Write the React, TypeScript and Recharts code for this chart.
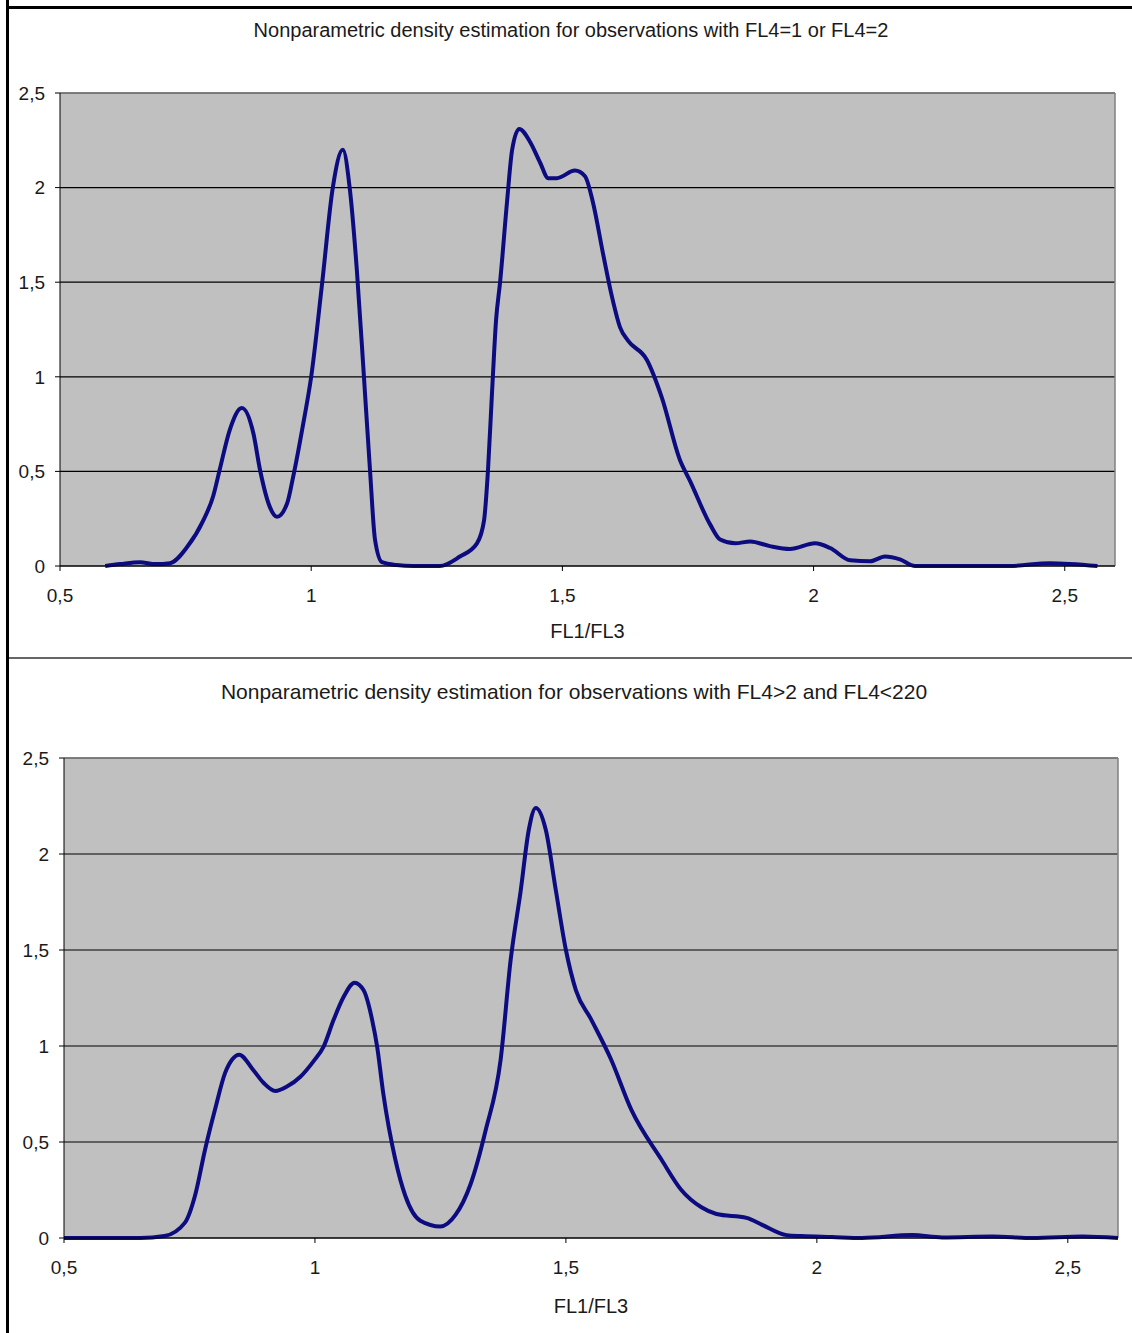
import {
  LineChart,
  Line,
  XAxis,
  YAxis,
  CartesianGrid,
  ReferenceLine
} from 'recharts';

// FL1/FL3 values and estimated density, top panel (FL4=1 or FL4=2)
const topX = [
  0.59, 0.62, 0.659, 0.69, 0.719, 0.753, 0.785, 0.805, 0.818, 0.838, 0.862, 0.885, 0.898,
  0.918, 0.932, 0.952, 0.964, 0.984, 1.0, 1.022, 1.043, 1.063, 1.077, 1.091, 1.105, 1.117,
  1.127, 1.141, 1.17, 1.203, 1.256, 1.296, 1.33, 1.344, 1.352, 1.36, 1.368, 1.376, 1.39,
  1.4, 1.414, 1.436, 1.456, 1.472, 1.489, 1.525, 1.545, 1.561, 1.581, 1.599, 1.615, 1.631,
  1.668, 1.698, 1.734, 1.754, 1.794, 1.814, 1.844, 1.874, 1.913, 1.953, 2.003, 2.033,
  2.073, 2.113, 2.142, 2.172, 2.202, 2.3, 2.39, 2.47, 2.565
];
const topY = [
  0, 0.01, 0.02, 0.01, 0.015, 0.1, 0.24, 0.37, 0.51, 0.72, 0.835, 0.7, 0.51,
  0.31, 0.26, 0.33, 0.47, 0.75, 1.0, 1.5, 2.0, 2.2, 1.99, 1.56, 1.0, 0.51,
  0.14, 0.02, 0.005, 0, 0, 0.05, 0.12, 0.24, 0.51, 0.92, 1.3, 1.5, 1.93,
  2.2, 2.31, 2.24, 2.13, 2.05, 2.05, 2.09, 2.06, 1.92, 1.65, 1.42, 1.26, 1.19,
  1.09, 0.89, 0.56, 0.45, 0.22, 0.14, 0.12, 0.13, 0.105, 0.09, 0.12, 0.095,
  0.03, 0.025, 0.05, 0.035, 0, 0, 0, 0.015, 0
];

// bottom panel (FL4>2 and FL4<220)
const bottomX = [
  0.5, 0.6, 0.652, 0.7, 0.741, 0.761, 0.781, 0.801, 0.821, 0.835, 0.849, 0.877, 0.897,
  0.921, 0.945, 0.971, 0.997, 1.017, 1.037, 1.057, 1.079, 1.097, 1.114, 1.124, 1.136,
  1.16, 1.18, 1.21, 1.25, 1.28, 1.31, 1.34, 1.37, 1.39, 1.41, 1.426, 1.44, 1.46, 1.48,
  1.5, 1.52, 1.55, 1.59, 1.63, 1.69, 1.73, 1.77, 1.8, 1.86, 1.89, 1.94, 1.97, 2.03,
  2.09, 2.19, 2.25, 2.35, 2.43, 2.53, 2.6
];
const bottomY = [
  0, 0, 0, 0.01, 0.08, 0.22, 0.46, 0.67, 0.86, 0.93, 0.955, 0.875, 0.81,
  0.766, 0.79, 0.84, 0.92, 0.995, 1.135, 1.255, 1.33, 1.29, 1.135, 0.995, 0.755,
  0.41, 0.22, 0.09, 0.06, 0.12, 0.28, 0.56, 0.93, 1.45, 1.81, 2.125, 2.24, 2.125, 1.81,
  1.5, 1.29, 1.14, 0.93, 0.67, 0.41, 0.25, 0.16, 0.125, 0.105, 0.07, 0.015, 0.01, 0.005,
  0, 0.015, 0.003, 0.008, 0, 0.008, 0
];

const xTicks = [0.5, 1, 1.5, 2, 2.5];
const yTicks = [0, 0.5, 1, 1.5, 2, 2.5];

const topData = topX.map((x, i) => ({ x, y: topY[i] }));
const bottomData = bottomX.map((x, i) => ({ x, y: bottomY[i] }));

const font = '"Liberation Sans", Arial, sans-serif';
const fmt = (v: number) => String(v).replace('.', ',');

function DensityChart({ data, title, titleSize, top, plotLeft, plotTop, plotRight, plotBottom, height, titleX, titleY }: any) {
  const W = 1132;
  return (
    <div style={{ position: 'absolute', left: 0, top, width: W, height }}>
      <div
        style={{
          position: 'absolute',
          left: titleX - 450,
          width: 900,
          top: titleY - 12,
          textAlign: 'center',
          fontFamily: font,
          fontSize: titleSize,
          color: '#1a1a1a'
        }}
      >
        {title}
      </div>
      <LineChart
        width={W}
        height={height}
        data={data}
        margin={{ top: plotTop, right: W - plotRight, bottom: 0, left: 0 }}
        style={{ fontFamily: font }}
      >
        <CartesianGrid vertical={false} fill="#c0c0c0" stroke="#000" strokeWidth={1.2} fillOpacity={1} />
        <XAxis
          dataKey="x"
          type="number"
          domain={[0.5, 2.6]}
          ticks={xTicks}
          allowDataOverflow
          tickFormatter={fmt}
          height={height - plotBottom}
          tickSize={5}
          tickMargin={18}
          stroke="#000"
          tick={{ fill: '#1a1a1a', fontSize: 19 }}
          label={{ value: 'FL1/FL3', position: 'insideBottom', offset: 20, fill: '#1a1a1a', fontSize: 20 }}
        />
        <YAxis
          type="number"
          domain={[0, 2.5]}
          ticks={yTicks}
          width={plotLeft}
          tickFormatter={fmt}
          tickSize={5}
          tickMargin={10}
          stroke="#000"
          tick={{ fill: '#1a1a1a', fontSize: 19 }}
        />
        <ReferenceLine y={2.5} stroke="#808080" strokeWidth={1.5} />
        <ReferenceLine x={2.6} stroke="#808080" strokeWidth={1.5} />
        <Line
          type="monotone"
          dataKey="y"
          stroke="#0c0c80"
          strokeWidth={4}
          dot={false}
          isAnimationActive={false}
        />
      </LineChart>
    </div>
  );
}

export default function App() {
  return (
    <div style={{ position: 'absolute', left: 0, top: 0, width: 1132, height: 1333, background: '#fff', overflow: 'hidden' }}>
      <DensityChart
        data={topData}
        title="Nonparametric density estimation for observations with FL4=1 or FL4=2"
        titleSize={20}
        top={0}
        height={658}
        plotLeft={60}
        plotTop={93}
        plotRight={1115}
        plotBottom={566}
        titleX={571}
        titleY={31}
      />
      <DensityChart
        data={bottomData}
        title="Nonparametric density estimation for observations with FL4>2 and FL4<220"
        titleSize={21}
        top={658}
        height={675}
        plotLeft={64}
        plotTop={100}
        plotRight={1118}
        plotBottom={580}
        titleX={574}
        titleY={34}
      />
      {/* frame and separator */}
      <div style={{ position: 'absolute', left: 6, top: 0, width: 3, height: 1333, background: '#000' }} />
      <div style={{ position: 'absolute', left: 6, top: 6, width: 1126, height: 3, background: '#000' }} />
      <div style={{ position: 'absolute', left: 9, top: 657, width: 1123, height: 2, background: '#666' }} />
    </div>
  );
}
